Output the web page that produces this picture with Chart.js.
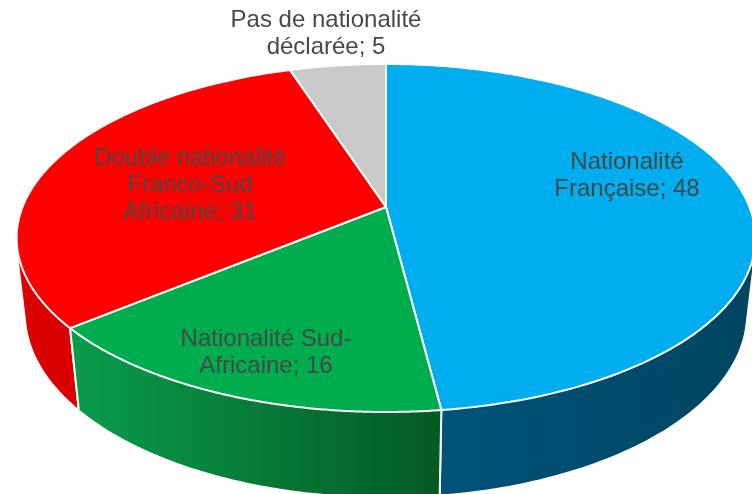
<!DOCTYPE html>
<html><head><meta charset="utf-8">
<style>html,body{margin:0;padding:0;background:#fff}canvas{display:block}</style>
<script src="https://cdn.jsdelivr.net/npm/chart.js@4"></script>
</head><body><canvas id="c" width="752" height="494"></canvas>
<script>
const categories = ["Nationalité Française", "Nationalité Sud-Africaine", "Double nationalité Franco-Sud Africaine", "Pas de nationalité déclarée"];
const values = [48, 16, 31, 5];
const labelLines = [["Nationalité", "Française; 48"], ["Nationalité Sud-", "Africaine; 16"], ["Double nationalité", "Franco-Sud", "Africaine; 31"], ["Pas de nationalité", "déclarée; 5"]];
const topColors = ["#00ADEF", "#00AD4E", "#FF0000", "#C9C9C9"];
const wallStops = [["#00557F", "#004560"], ["#0A9C4C", "#045A22"], ["#DC0000", "#D20000"], ["#999999", "#888888"]];

const view = { cx: 386, cy: 207, a: 363.5, b: 168.5, k: 0.178, vpx: 386, vpy: 3290, hy: -740, c: 0.904 };
const labelPos = [[627, 162], [266, 339], [190, 158], [326, 20]];

function top3(angle) {
  const X = Math.cos(angle), Y = Math.sin(angle), d = 1 - view.k * Y;
  return [view.cx + view.a * X / d, view.cy + view.b * Y / d];
}
function drop(p) {
  const r = view.c * (view.vpy - p[1]) / (p[1] - view.hy);
  const y = (view.vpy + r * view.hy) / (1 + r);
  return [view.vpx + (p[0] - view.vpx) * (view.vpy - y) / (view.vpy - p[1]), y];
}
function arcPts(s, e) {
  const n = 160, pts = [];
  for (let i = 0; i <= n; i++) pts.push(top3(s + (e - s) * i / n));
  return pts;
}
const pie3d = {
  id: 'pie3d',
  beforeDatasetsDraw(chart) {
    const ctx = chart.ctx, arcs = chart.getDatasetMeta(0).data;
    ctx.save();
    ctx.lineJoin = 'round';
    ctx.strokeStyle = '#fff';
    ctx.lineWidth = 2;
    [3, 2, 0, 1].forEach(i => {
      const pts = arcPts(arcs[i].startAngle, arcs[i].endAngle), low = pts.map(drop);
      const xs = low.concat(pts).map(p => p[0]);
      const g = ctx.createLinearGradient(Math.min(...xs), 0, Math.min(Math.max(...xs), 752), 0);
      g.addColorStop(0, wallStops[i][0]); g.addColorStop(1, wallStops[i][1]);
      ctx.beginPath();
      for (let j = 0; j < pts.length - 1; j++) {
        let quad = [pts[j], pts[j + 1], low[j + 1], low[j]], area = 0;
        quad.forEach((p, m) => { const q = quad[(m + 1) % 4]; area += p[0] * q[1] - q[0] * p[1]; });
        if (area < 0) quad = quad.reverse();
        quad.forEach((p, m) => m ? ctx.lineTo(p[0], p[1]) : ctx.moveTo(p[0], p[1]));
        ctx.closePath();
      }
      ctx.fillStyle = g;
      ctx.fill();
      [pts[0], pts[pts.length - 1]].forEach(p => {
        const q = drop(p);
        ctx.beginPath(); ctx.moveTo(p[0], p[1]); ctx.lineTo(q[0], q[1]); ctx.stroke();
      });
    });
    arcs.forEach((arc, i) => {
      const pts = arcPts(arc.startAngle, arc.endAngle);
      ctx.beginPath();
      ctx.moveTo(view.cx, view.cy);
      pts.forEach(p => ctx.lineTo(p[0], p[1]));
      ctx.closePath();
      ctx.fillStyle = topColors[i];
      ctx.fill();
      ctx.stroke();
    });
    ctx.restore();
    return false;
  },
  afterDraw(chart) {
    const ctx = chart.ctx;
    ctx.save();
    ctx.font = '24px "Liberation Sans", Arial, sans-serif';
    ctx.fillStyle = '#484848';
    ctx.textAlign = 'center';
    ctx.textBaseline = 'middle';
    labelLines.forEach((lines, i) => lines.forEach((t, j) => {
      ctx.fillText(t, labelPos[i][0], labelPos[i][1] + j * 27);
    }));
    ctx.restore();
  }
};
new Chart(document.getElementById('c'), {
  type: 'pie',
  data: { labels: categories, datasets: [{ data: values, backgroundColor: topColors, borderColor: '#fff' }] },
  options: {
    responsive: false, animation: false,
    plugins: { legend: { display: false }, tooltip: { enabled: false }, title: { display: false } }
  },
  plugins: [pie3d]
});
</script></body></html>
